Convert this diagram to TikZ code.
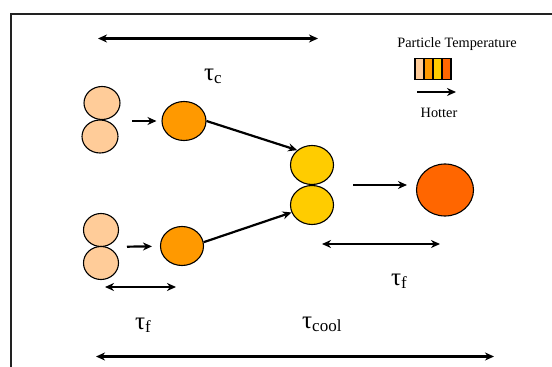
\documentclass[tikz,border=0pt]{standalone}
\usepackage{fontspec}
\setmainfont{Liberation Serif}
\usetikzlibrary{shapes.geometric,arrows.meta}
\definecolor{peach}{HTML}{FFCC99}
\definecolor{orng}{HTML}{FF9900}
\definecolor{yell}{HTML}{FFCC00}
\definecolor{hot}{HTML}{FF6600}
\definecolor{framegray}{HTML}{222222}
\tikzset{
  ball/.style={ellipse, draw=black, line width=1.1pt, inner sep=0pt},
  conn/.style={line width=2.2pt, -{Stealth[length=9pt,width=8pt]}},
  span/.style={line width=2.2pt, {Stealth[length=9pt,width=8pt]}-{Stealth[length=9pt,width=8pt]}},
  tau/.style={inner sep=0pt, anchor=base west},
  stripe/.style={draw=black, line width=1.1pt, minimum width=9pt, minimum height=21pt, inner sep=0pt},
}
\newcommand{\taulab}[1]{{\fontsize{25}{27}\selectfont τ}\raisebox{-3.5pt}{\fontsize{17}{19}\selectfont #1}}
\begin{document}
\begin{tikzpicture}[x=1pt,y=-1pt]
\useasboundingbox (0,0) rectangle (552,367);
% frame
\draw[framegray, line width=2pt] (552,14.3) -- (10.7,14.3) -- (10.7,367);
% upper pair
\node[ball, fill=peach, minimum width=36pt, minimum height=33pt] (pa1) at (102,103) {};
\node[ball, fill=peach, minimum width=36pt, minimum height=33pt] (pa2) at (100,136.5) {};
\coordinate (pa) at (101,121);
% lower pair
\node[ball, fill=peach, minimum width=35pt, minimum height=33pt] (pb1) at (101,230) {};
\node[ball, fill=peach, minimum width=35pt, minimum height=33pt] (pb2) at (101,263) {};
\coordinate (pb) at (101,247);
% orange balls
\node[ball, fill=orng, minimum width=44pt, minimum height=39pt] (oa) at (184,121) {};
\node[ball, fill=orng, minimum width=43pt, minimum height=39pt] (ob) at (182,246) {};
% yellow pair
\node[ball, fill=yell, minimum width=43pt, minimum height=39pt] (ya) at (312,165) {};
\node[ball, fill=yell, minimum width=43pt, minimum height=39pt] (yb) at (312,205) {};
\coordinate (ym) at (312,185);
% hot ball
\node[ball, fill=hot, minimum width=57pt, minimum height=52pt] (hb) at (445,190) {};
% connectors
\draw[conn, shorten <=31pt, shorten >=5pt] (pa) -- (oa);
\draw[conn, shorten <=26pt, shorten >=8pt] (pb) -- (ob);
\draw[conn] (oa.east) -- (ya.135);
\draw[conn] (ob.10) -- (yb.200);
\draw[conn, shorten <=41pt, shorten >=9pt] (ym) -- (ym -| hb.west);
% spans
\coordinate (c1) at (98,38.5); \coordinate (c2) at (318,38.5);
\draw[span] (c1) -- (c2);
\coordinate (f1) at (105,287); \coordinate (f2) at (176,287);
\draw[span] (f1) -- (f2);
\coordinate (g1) at (322,244); \coordinate (g2) at (440,244);
\draw[span] (g1) -- (g2);
\coordinate (k1) at (96,356.5); \coordinate (k2) at (494,356.5);
\draw[span] (k1) -- (k2);
% labels
\node[tau] (lc) at (204,80) {\taulab{c}};
\node[tau] (lf1) at (135,329) {\taulab{f}};
\node[tau] (lf2) at (391,285) {\taulab{f}};
\node[tau] (lcool) at (302,328) {\taulab{cool}};
% legend
\node[font=\fontsize{14.3}{16}\selectfont, inner sep=0pt] (lt) at (457,44) {Particle Temperature};
\node[stripe, fill=peach] (s1) at (419.5,69) {};
\node[stripe, fill=orng] (s2) at (428.5,69) {};
\node[stripe, fill=yell] (s3) at (437.5,69) {};
\node[stripe, fill=hot] (s4) at (446.5,69) {};
\coordinate (h1) at (417,92); \coordinate (h2) at (456,92);
\draw[conn] (h1) -- (h2);
\node[font=\fontsize{14.3}{16}\selectfont, inner sep=0pt] (lh) at (439,113) {Hotter};
\end{tikzpicture}
\end{document}
